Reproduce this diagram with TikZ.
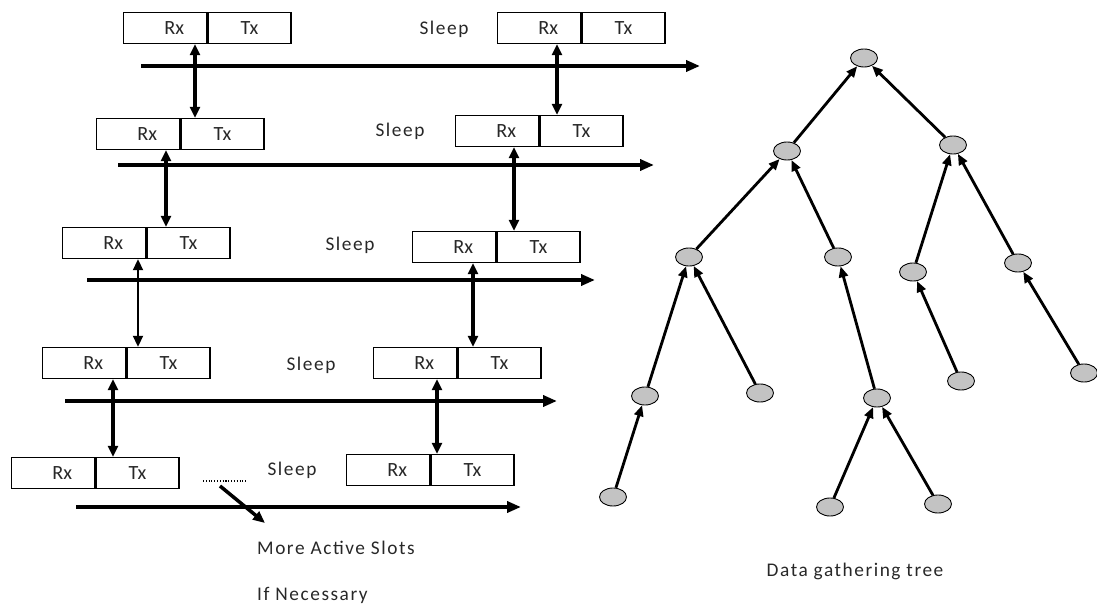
\documentclass[tikz,border=0pt]{standalone}
\usepackage{fontspec}
\setmainfont{Carlito}
\newfontfamily\widefont[LetterSpace=8]{Carlito}
\usetikzlibrary{arrows.meta,positioning,shapes.geometric}

\definecolor{nodegray}{RGB}{195,195,195}
\definecolor{inkgray}{RGB}{40,40,40}

\tikzset{
  slot/.style={draw=black, line width=0.8pt, minimum width=1.66cm, minimum height=0.62cm,
    inner sep=0pt, text=inkgray, font=\fontsize{11.5}{13}\selectfont},
  note/.style={text=inkgray, font=\widefont\fontsize{11}{13}\selectfont},
  timeline/.style={line width=2pt, -{Triangle[length=0.28cm, width=0.22cm]}},
  wake/.style={line width=2.3pt, {Triangle[length=0.22cm, width=0.2cm]}-{Triangle[length=0.22cm, width=0.2cm]}},
  wakethin/.style={wake, line width=1.1pt},
  sensor/.style={ellipse, draw=black, line width=0.5pt, fill=nodegray,
    minimum width=0.54cm, minimum height=0.36cm, inner sep=0pt},
  feed/.style={line width=1.6pt, -{Triangle[length=0.22cm, width=0.18cm]}},
}

\begin{document}
\begin{tikzpicture}[x=0.02cm, y=-0.02cm]
    \useasboundingbox (0,0) rectangle (1097,607);

    % active slots, left column
    \node[slot, anchor=west](rxL1) at (123,28){\hspace*{0.36cm}Rx};
    \node[slot, right=0pt of rxL1](txL1){Tx};
    \node[slot, anchor=west](rxL2) at (96,134){\hspace*{0.36cm}Rx};
    \node[slot, right=0pt of rxL2](txL2){Tx};
    \node[slot, anchor=west](rxL3) at (62,243){\hspace*{0.36cm}Rx};
    \node[slot, right=0pt of rxL3](txL3){Tx};
    \node[slot, anchor=west](rxL4) at (42,363){\hspace*{0.36cm}Rx};
    \node[slot, right=0pt of rxL4](txL4){Tx};
    \node[slot, anchor=west](rxL5) at (11,473){\hspace*{0.36cm}Rx};
    \node[slot, right=0pt of rxL5](txL5){Tx};

    % active slots, right column
    \node[slot, anchor=west](rxR1) at (497,28){\hspace*{0.36cm}Rx};
    \node[slot, right=0pt of rxR1](txR1){Tx};
    \node[slot, anchor=west](rxR2) at (455,131){\hspace*{0.36cm}Rx};
    \node[slot, right=0pt of rxR2](txR2){Tx};
    \node[slot, anchor=west](rxR3) at (412,247){\hspace*{0.36cm}Rx};
    \node[slot, right=0pt of rxR3](txR3){Tx};
    \node[slot, anchor=west](rxR4) at (373,363){\hspace*{0.36cm}Rx};
    \node[slot, right=0pt of rxR4](txR4){Tx};
    \node[slot, anchor=west](rxR5) at (346,470){\hspace*{0.36cm}Rx};
    \node[slot, right=0pt of rxR5](txR5){Tx};

    \node[note](sleep1) at (444,29){Sleep};
    \node[note](sleep2) at (400,131){Sleep};
    \node[note](sleep3) at (350,245){Sleep};
    \node[note](sleep4) at (311,365){Sleep};
    \node[note](sleep5) at (292,470){Sleep};

    % time axes
    \draw[timeline] (141,66) -- (700,66);
    \draw[timeline] (118,165) -- (654,165);
    \draw[timeline] (87,280) -- (595,280);
    \draw[timeline] (65,401) -- (557,401);
    \draw[timeline] (76,507) -- (521,507);

    % slot to slot
    \draw[wake] (rxL1.south -| 195,0) -- (txL2.north -| 195,0);
    \draw[wake] (rxR1.south -| 557,0) -- (txR2.north -| 557,0);
    \draw[wake] (rxL2.south -| 166,0) -- (txL3.north -| 166,0);
    \draw[wake] (rxR2.south -| 514,0) -- (txR3.north -| 514,0);
    \draw[wakethin] (rxL3.south -| 138,0) -- (txL4.north -| 138,0);
    \draw[wake] (rxR3.south -| 473,0) -- (txR4.north -| 473,0);
    \draw[wake] (rxL4.south -| 113,0) -- (txL5.north -| 113,0);
    \draw[wake] (rxR4.south -| 437,0) -- (txR5.north -| 437,0);

    % more slots
    \coordinate (dotsA) at (203,481);
    \coordinate (dotsB) at (247,481);
    \draw[densely dotted, line width=0.6pt] (dotsA) -- (dotsB);
    \coordinate (moreA) at (220,486);
    \coordinate (moreB) at (265,523);
    \draw[line width=2pt, -{Triangle[length=0.24cm, width=0.2cm]}] (moreA) -- (moreB);
    \node[note, anchor=west](more) at (251,548){More Active Slots};
    \node[note, anchor=west](ifnec) at (251,595){If Necessary};

    % data gathering tree
    \node[sensor](root) at (864,58){};
    \node[sensor](l) at (787,151){};
    \node[sensor](r) at (953,145){};
    \node[sensor](ll) at (689,257){};
    \node[sensor](lr) at (838,257){};
    \node[sensor](rl) at (913,272){};
    \node[sensor](rr) at (1018,263){};
    \node[sensor](lll) at (645,396){};
    \node[sensor](llr) at (760,393){};
    \node[sensor](lrl) at (877,398){};
    \node[sensor](rll) at (961,381){};
    \node[sensor](rrl) at (1084,373){};
    \node[sensor](llll) at (613,497){};
    \node[sensor](lrll) at (830,507){};
    \node[sensor](lrlr) at (938,504){};

    \draw[feed] (l) -- (root);
    \draw[feed] (r) -- (root);
    \draw[feed] (ll) -- (l);
    \draw[feed] (lr) -- (l);
    \draw[feed] (rl) -- (r);
    \draw[feed] (rr) -- (r);
    \draw[feed] (lll) -- (ll);
    \draw[feed] (llr) -- (ll);
    \draw[feed] (lrl) -- (lr);
    \draw[feed] (rll) -- (rl);
    \draw[feed] (rrl) -- (rr);
    \draw[feed] (llll) -- (lll);
    \draw[feed] (lrll) -- (lrl);
    \draw[feed] (lrlr) -- (lrl);

    \node[note](caption) at (855,571){Data gathering tree};
\end{tikzpicture}
\end{document}
